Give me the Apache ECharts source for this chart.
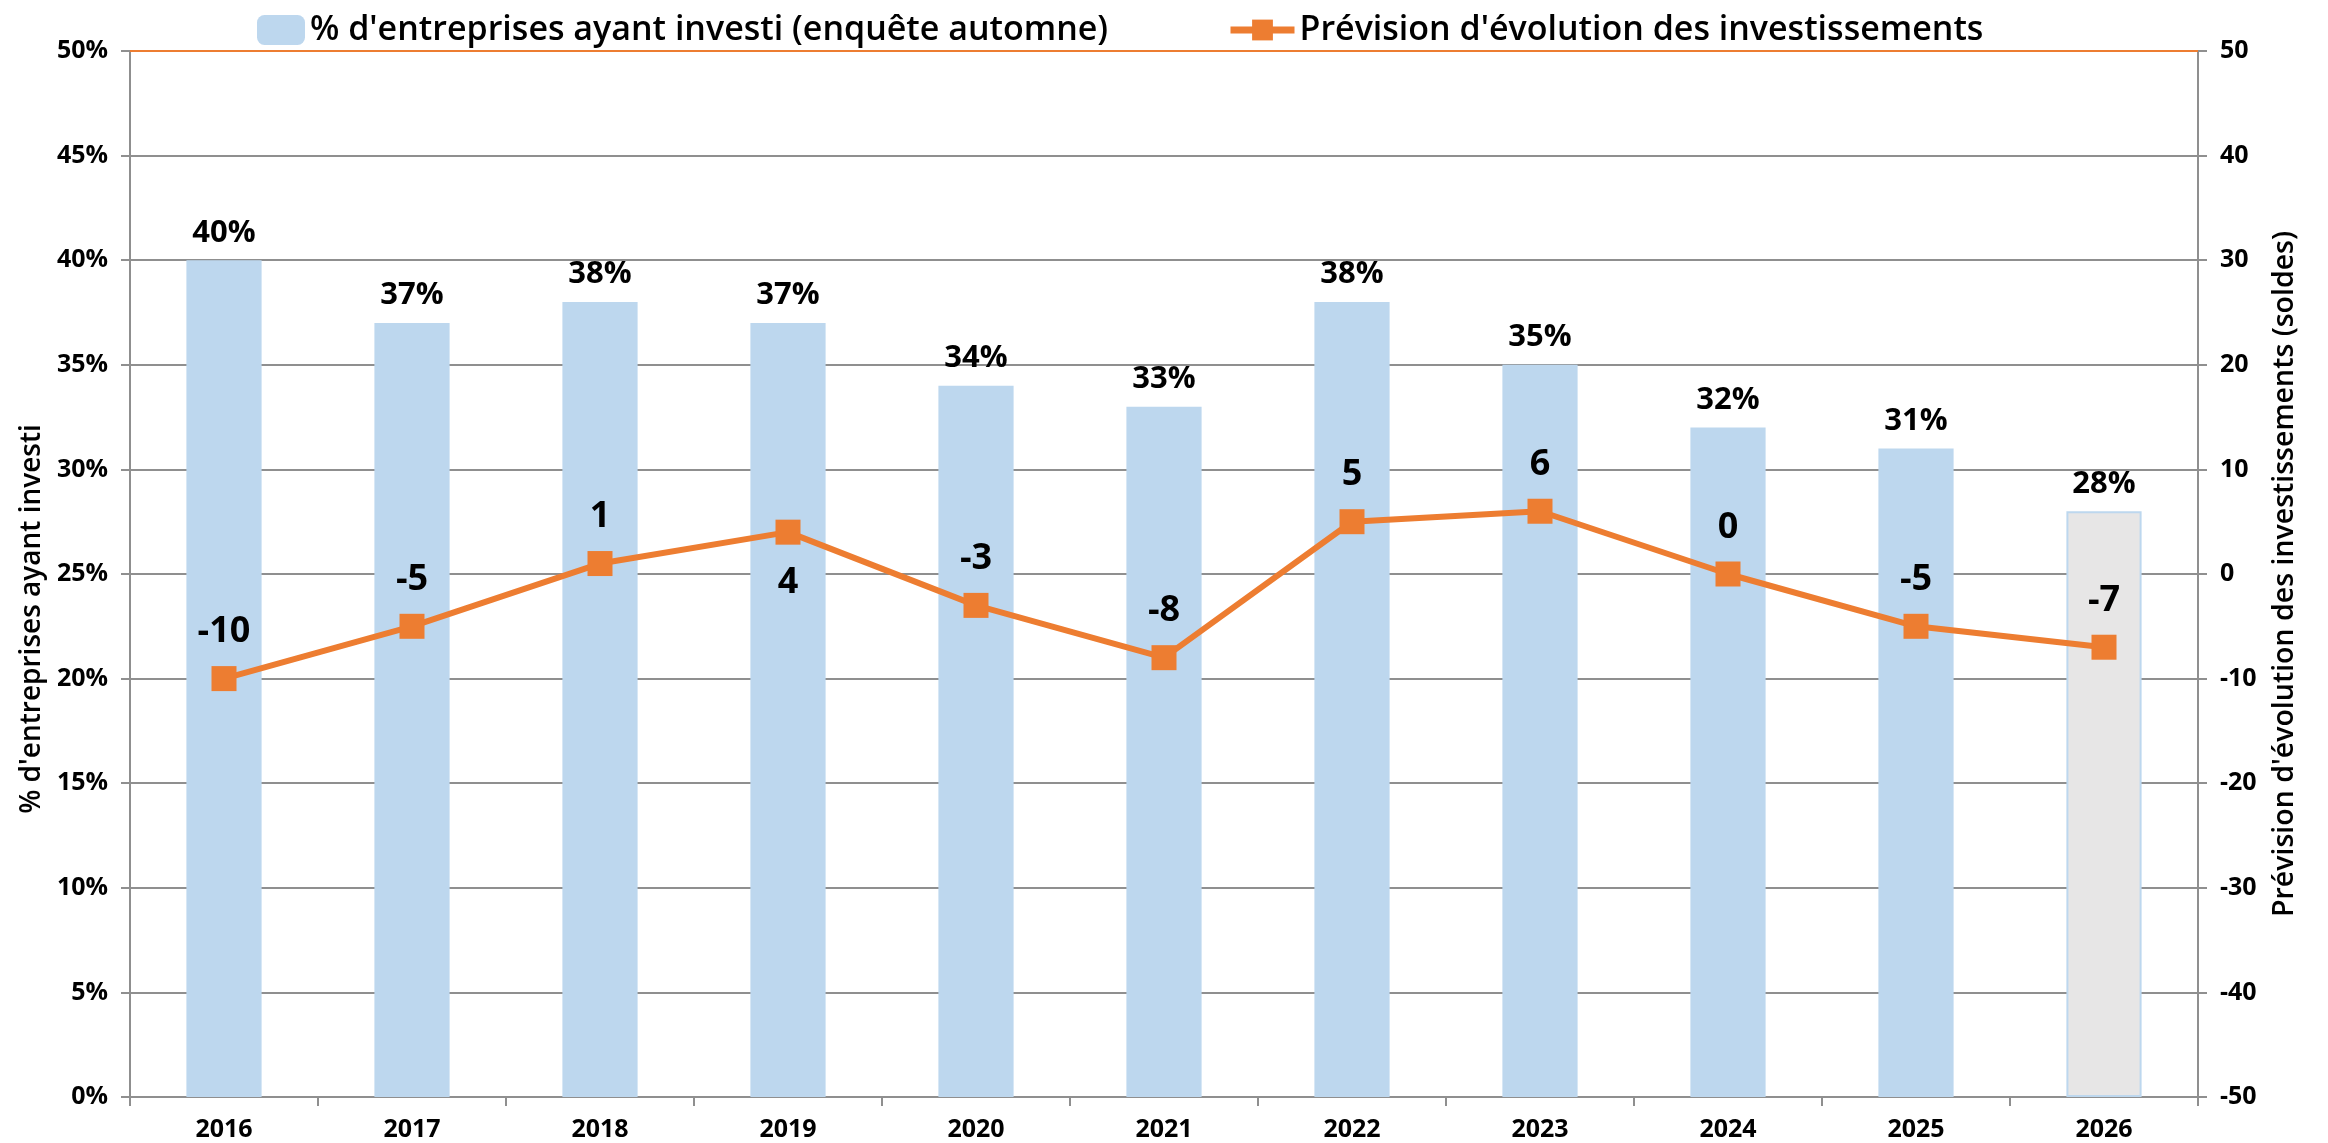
<!DOCTYPE html>
<html>
<head>
<meta charset="utf-8">
<script src="https://cdn.jsdelivr.net/npm/echarts@6/dist/echarts.min.js"></script>
<style>
  html, body { margin: 0; padding: 0; background: #fff; }
  #chart { width: 2328px; height: 1143px; }
</style>
</head>
<body>
<div id="chart"></div>
<script>
// data
let years = ['2016', '2017', '2018', '2019', '2020', '2021', '2022', '2023', '2024', '2025', '2026'];
let shareInvested = [0.40, 0.37, 0.38, 0.37, 0.34, 0.33, 0.38, 0.35, 0.32, 0.31, 0.28];
let forecastBalance = [-10, -5, 1, 4, -3, -8, 5, 6, 0, -5, -7];
let barName = "% d'entreprises ayant investi (enquête automne)";
let lineName = "Prévision d'évolution des investissements";
let leftAxisName = "% d'entreprises ayant investi";
let rightAxisName = "Prévision d'évolution des investissements (soldes)";

let font = '"Open Sans", "Noto Sans", sans-serif';
let grey = '#8f8f8f';
let orange = '#ED7D31';
let blue = '#BDD7EE';

let chart = echarts.init(document.getElementById('chart'));

let barData = shareInvested.map(function(v, i) {
  // last year is a forecast : grey bar with a blue border
  if (i === shareInvested.length - 1) {
    return { value: v, itemStyle: { color: '#E7E6E6', borderColor: blue, borderWidth: 2 } };
  }
  return v;
});

let lineData = forecastBalance.map(function(v, i) {
  if (years[i] === '2019') {
    return { value: v, label: { position: 'bottom', distance: 20 } };
  }
  return v;
});

chart.setOption({
  animation: false,
  textStyle: { fontFamily: font },
  grid: { left: 130, right: 130, top: 51, bottom: 46, containLabel: false },
  legend: [{
    data: [barName],
    left: 252,
    top: 8,
    itemWidth: 48,
    itemHeight: 30,
    itemGap: 6,
    textStyle: { fontSize: 34, fontWeight: 600, color: '#000', fontFamily: font }
  }, {
    data: [lineName],
    left: 1222,
    top: 8,
    itemWidth: 64,
    itemHeight: 26,
    itemGap: 4,
    lineStyle: { width: 7 },
    textStyle: { fontSize: 34, fontWeight: 600, color: '#000', fontFamily: font }
  }],
  xAxis: {
    type: 'category',
    data: years,
    axisLine: { lineStyle: { color: grey, width: 2 } },
    axisTick: { show: true, length: 9, lineStyle: { color: grey, width: 2 } },
    axisLabel: { color: '#000', fontSize: 25, fontWeight: 'bold', margin: 20, fontFamily: font }
  },
  yAxis: [{
    type: 'value',
    min: 0,
    max: 0.5,
    interval: 0.05,
    name: leftAxisName,
    nameLocation: 'middle',
    nameGap: 82,
    nameTextStyle: { color: '#000', fontSize: 28, fontWeight: 600, fontFamily: font, padding: [0, 90, 0, 0] },
    axisLine: { show: true, lineStyle: { color: grey, width: 2 } },
    axisTick: { show: true, length: 9, lineStyle: { color: grey, width: 2 } },
    axisLabel: {
      color: '#000', fontSize: 25, fontWeight: 'bold', margin: 22, fontFamily: font,
      formatter: function(v) { return Math.round(v * 100) + '%'; }
    },
    splitLine: { lineStyle: { color: grey, width: 2 } }
  }, {
    type: 'value',
    min: -50,
    max: 50,
    interval: 10,
    position: 'right',
    name: rightAxisName,
    nameLocation: 'middle',
    nameGap: 72,
    nameTextStyle: { color: '#000', fontSize: 28.5, fontWeight: 600, fontFamily: font },
    axisLine: { show: true, lineStyle: { color: grey, width: 2 } },
    axisTick: { show: true, length: 9, lineStyle: { color: grey, width: 2 } },
    axisLabel: { color: '#000', fontSize: 25, fontWeight: 'bold', margin: 22, fontFamily: font },
    splitLine: { show: false }
  }],
  series: [{
    name: barName,
    type: 'bar',
    yAxisIndex: 0,
    barWidth: '40%',
    itemStyle: { color: blue },
    label: {
      show: true,
      position: 'top',
      distance: 12,
      color: '#000',
      fontSize: 31,
      fontWeight: 'bold',
      fontFamily: font,
      formatter: function(p) { return Math.round(p.value * 100) + '%'; }
    },
    markLine: {
      silent: true,
      symbol: 'none',
      label: { show: false },
      lineStyle: { color: orange, width: 2, type: 'solid' },
      data: [{ yAxis: 0.5 }]
    },
    data: barData
  }, {
    name: lineName,
    type: 'line',
    yAxisIndex: 1,
    symbol: 'rect',
    symbolSize: 25,
    itemStyle: { color: orange },
    lineStyle: { color: orange, width: 6 },
    label: {
      show: true,
      position: 'top',
      distance: 16,
      color: '#000',
      fontSize: 36,
      fontWeight: 'bold',
      fontFamily: font
    },
    z: 5,
    data: lineData
  }]
});
</script>
</body>
</html>
